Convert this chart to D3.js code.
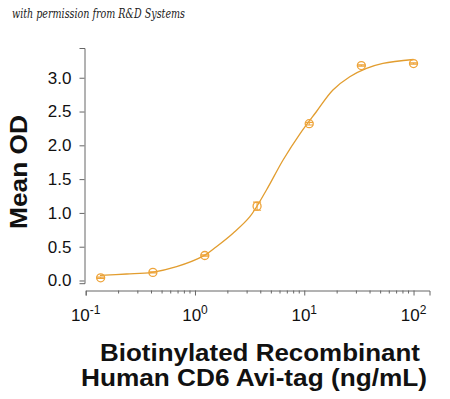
<!DOCTYPE html>
<html>
<head>
<meta charset="utf-8">
<script src="https://cdn.jsdelivr.net/npm/d3@7"></script>
<style>
  body { margin: 0; background: #fff; }
  svg { display: block; font-family: "Liberation Sans", Arial, sans-serif; }
</style>
</head>
<body>
<svg width="450" height="399"></svg>
<script>
// measured points (ng/mL, mean OD, error)
const concentrations = [0.137, 0.412, 1.23, 3.70, 11.1, 33.3, 100]
const meanOD = [0.04, 0.12, 0.37, 1.10, 2.32, 3.18, 3.21]
const errorOD = [0.01, 0.01, 0.01, 0.06, 0.02, 0.01, 0.01]

// fitted curve
const curveConc = [0.135, 0.237, 0.406, 0.679, 1.21, 1.57, 2.23, 3.18, 4.51, 6.40, 9.10, 12.9, 18.3, 26.1, 37.1, 52.5, 100]
const curveOD = [0.077, 0.096, 0.121, 0.204, 0.367, 0.50, 0.70, 0.944, 1.339, 1.783, 2.167, 2.497, 2.818, 3.015, 3.139, 3.213, 3.27]

// tick labels
const yTicks = [0, 0.5, 1, 1.5, 2, 2.5, 3]
const xTicks = [0.1, 1, 10, 100]
const xExponents = ["-1", "0", "1", "2"]

const svg = d3.select('svg')
const orange = '#e29d2f'
const axisColor = '#666'

const xScale = d3.scaleLog()
    .domain([0.1, 140])
    .range([85.7, 429.5])

const yScale = d3.scaleLinear()
    .domain([-0.04, 3.44])
    .range([283.2, 48])

// watermark
svg.append('text')
    .attr('x', 12)
    .attr('y', 18)
    .attr('font-family', '"DejaVu Serif", "Liberation Serif", serif')
    .attr('font-style', 'italic')
    .attr('font-size', 12)
    .attr('fill', '#222')
    .attr('textLength', 173)
    .attr('lengthAdjust', 'spacingAndGlyphs')
    .text('with permission from R&D Systems')

// y axis
const yAxis = svg.append('g')
    .attr('transform', 'translate(84.5,0)')
    .call(d3.axisLeft(yScale)
        .tickValues(yTicks)
        .tickFormat(d3.format('.1f'))
        .tickSizeOuter(0)
        .tickSize(5)
        .tickPadding(8))
yAxis.select('.domain').attr('stroke', axisColor)
yAxis.selectAll('.tick line').attr('stroke', axisColor)
yAxis.selectAll('.tick text')
    .attr('font-size', 17)
    .attr('font-family', '"Liberation Sans", Arial, sans-serif')
    .attr('fill', '#111')

// x axis with minor log ticks
const minorTicks = xScale.ticks().filter(d => d <= 100 && !xTicks.includes(d))
const xAxis = svg.append('g')
    .attr('transform', 'translate(0,290.5)')
    .call(d3.axisBottom(xScale)
        .tickValues(xTicks)
        .tickFormat('')
        .tickSizeOuter(0)
        .tickSize(5))
xAxis.select('.domain').attr('stroke', axisColor)
xAxis.selectAll('.tick line').attr('stroke', axisColor)

xAxis.selectAll('.minor')
    .data(minorTicks)
    .enter()
    .append('line')
    .attr('class', 'minor')
    .attr('x1', d => xScale(d))
    .attr('x2', d => xScale(d))
    .attr('y1', 0)
    .attr('y2', 3)
    .attr('stroke', axisColor)

// power-of-ten labels
const xLabels = xAxis.selectAll('.xlabel')
    .data(xTicks)
    .enter()
    .append('text')
    .attr('class', 'xlabel')
    .attr('x', d => xScale(d))
    .attr('y', 30)
    .attr('text-anchor', 'middle')
    .attr('font-size', 17)
    .attr('fill', '#111')
xLabels.append('tspan').text('10')
xLabels.append('tspan')
    .attr('dy', -7)
    .attr('font-size', 12)
    .text((d, i) => xExponents[i])

// axis titles
svg.append('text')
    .attr('transform', 'translate(27,172) rotate(-90)')
    .attr('text-anchor', 'middle')
    .attr('font-size', 24)
    .attr('font-weight', 'bold')
    .attr('fill', '#111')
    .attr('textLength', 114)
    .attr('lengthAdjust', 'spacingAndGlyphs')
    .text('Mean OD')

svg.append('text')
    .attr('x', 260)
    .attr('y', 361)
    .attr('text-anchor', 'middle')
    .attr('font-size', 23)
    .attr('font-weight', 'bold')
    .attr('fill', '#111')
    .attr('textLength', 320)
    .attr('lengthAdjust', 'spacingAndGlyphs')
    .text('Biotinylated Recombinant')

svg.append('text')
    .attr('x', 254)
    .attr('y', 386)
    .attr('text-anchor', 'middle')
    .attr('font-size', 23)
    .attr('font-weight', 'bold')
    .attr('fill', '#111')
    .attr('textLength', 346)
    .attr('lengthAdjust', 'spacingAndGlyphs')
    .text('Human CD6 Avi-tag (ng/mL)')

// fitted curve
const line = d3.line()
    .x(d => xScale(d[0]))
    .y(d => yScale(d[1]))
    .curve(d3.curveCatmullRom.alpha(0.5))

svg.append('path')
    .datum(d3.zip(curveConc, curveOD))
    .attr('d', line)
    .attr('fill', 'none')
    .attr('stroke', orange)
    .attr('stroke-width', 1.3)

// points with error bars
const points = concentrations.map((c, i) => ({ c: c, od: meanOD[i], err: errorOD[i] }))

const marks = svg.selectAll('.point')
    .data(points)
    .enter()
    .append('g')
    .attr('class', 'point')
    .attr('transform', d => `translate(${xScale(d.c)},${yScale(d.od)})`)

marks.append('circle')
    .attr('r', 4)
    .attr('fill', 'none')
    .attr('stroke', '#eea43a')
    .attr('stroke-width', 1.3)

marks.append('path')
    .attr('d', d => {
        const h = yScale(0) - yScale(d.err)
        return `M-4,${-h}H4M-4,${h}H4M0,${-h}V${h}`
    })
    .attr('fill', 'none')
    .attr('stroke', '#eea43a')
    .attr('stroke-width', 1.1)
</script>
</body>
</html>
